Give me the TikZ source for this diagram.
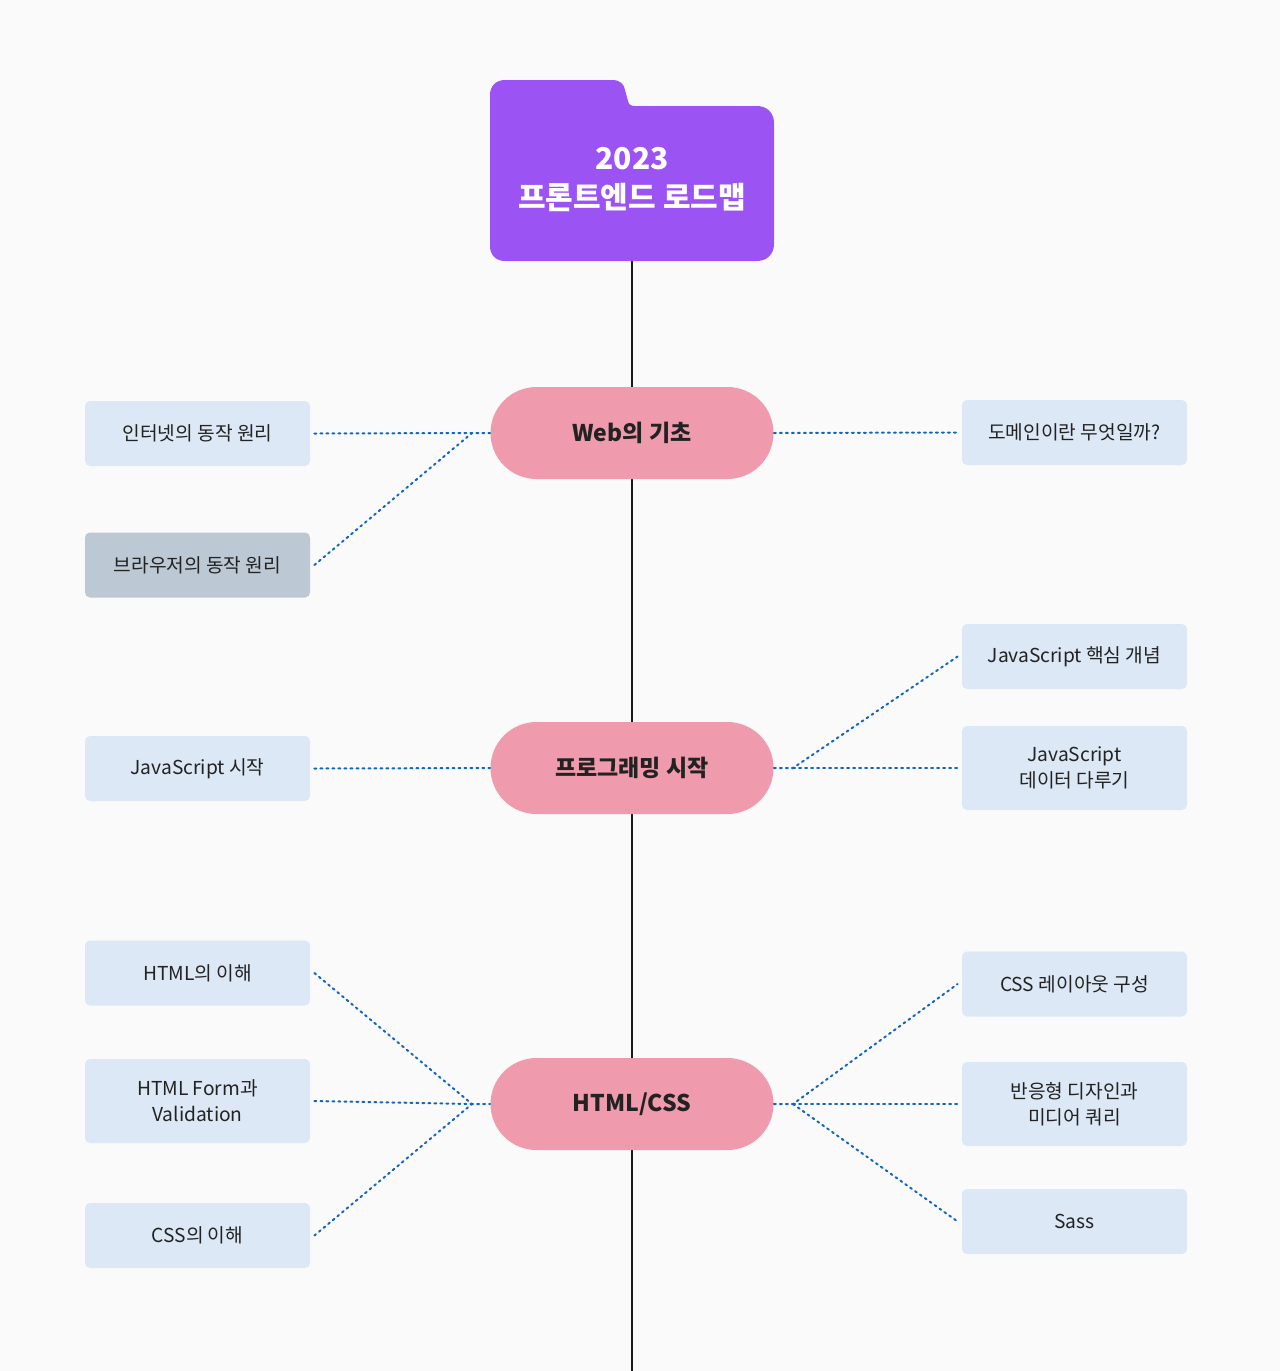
\documentclass[tikz,border=0pt]{standalone}
\usepackage{fontspec}
\setmainfont{Noto Sans CJK KR}
\usetikzlibrary{shapes.misc}
\definecolor{bg}{HTML}{FAFAFA}
\definecolor{folderc}{HTML}{9B53F4}
\definecolor{pinkc}{HTML}{F09AAD}
\definecolor{boxc}{HTML}{DCE8F5}
\definecolor{grayc}{HTML}{BCC8D4}
\definecolor{dotc}{HTML}{1565C0}
\definecolor{txtc}{HTML}{222222}
\tikzset{
  topic/.style={rounded rectangle, fill=pinkc, minimum width=141.5pt, minimum height=46pt, inner sep=0pt, font=\fontsize{11.5}{14}\selectfont\bfseries, text=txtc},
  leaf/.style={rectangle, rounded corners=2.5pt, fill=boxc, minimum width=112.5pt, inner sep=0pt, align=center, font=\fontsize{9.6}{13}\selectfont, text=txtc},
  leafgray/.style={leaf, fill=grayc},
  short/.style={minimum height=32.5pt},
  tall/.style={minimum height=42pt},
  link/.style={dotc, line width=1pt, dash pattern=on 1pt off 2pt, line cap=round},
  spine/.style={black!90, line width=1.2pt}
}
\begin{document}
\begin{tikzpicture}[x=0.5pt,y=-0.5pt]
\fill[bg] (0,0) rectangle (1280,1371);
\useasboundingbox (0,0) rectangle (1280,1371);
% spine
\coordinate (spinebottom) at (632,1371);
\coordinate (foldbottom) at (632,261);
\draw[spine] (foldbottom) -- (spinebottom);
% folder
\fill[folderc] (490,95) .. controls (490,86) and (496,80) .. (505,80)
  -- (612,80) .. controls (620,80) and (624,84) .. (625,90)
  -- (628,101) .. controls (629,105) and (631,106) .. (635,106)
  -- (757,106) .. controls (767,106) and (774,113) .. (774,123)
  -- (774,244) .. controls (774,254) and (767,261) .. (757,261)
  -- (505,261) .. controls (496,261) and (490,255) .. (490,246) -- cycle;
\node[text=white, align=center, font=\fontsize{15}{19.5}\selectfont\bfseries] (title) at (632,180) {2023\\프론트엔드 로드맵};
% topics
\node[topic] (web) at (632,433) {Web의 기초};
\node[topic] (prog) at (632,768) {프로그래밍 시작};
\node[topic] (html) at (632,1104) {HTML/CSS};
% left leaves
\node[leaf,short] (l1) at (197.5,433.5) {인터넷의 동작 원리};
\node[leafgray,short] (l2) at (197.5,565) {브라우저의 동작 원리};
\node[leaf,short] (l3) at (197.5,768.5) {JavaScript 시작};
\node[leaf,short] (l4) at (197.5,973) {HTML의 이해};
\node[leaf,tall] (l5) at (197.5,1101) {HTML Form과\\Validation};
\node[leaf,short] (l6) at (197.5,1235.5) {CSS의 이해};
% right leaves
\node[leaf,short] (r1) at (1074.5,432.5) {도메인이란 무엇일까?};
\node[leaf,short] (r2) at (1074.5,656.5) {JavaScript 핵심 개념};
\node[leaf,tall] (r3) at (1074.5,768) {JavaScript\\데이터 다루기};
\node[leaf,short] (r4) at (1074.5,984) {CSS 레이아웃 구성};
\node[leaf,tall] (r5) at (1074.5,1104) {반응형 디자인과\\미디어 쿼리};
\node[leaf,short] (r6) at (1074.5,1221.5) {Sass};
% junctions
\coordinate (jw) at (472,433);
\coordinate (jwr) at (793,433);
\coordinate (jp) at (472,768);
\coordinate (jpr) at (793,768);
\coordinate (jh) at (472,1104);
\coordinate (jhr) at (793,1104);
% connectors
\draw[link] ([xshift=2pt]l1.east) -- (jw) -- (web.west);
\draw[link] ([xshift=2pt]l2.east) -- (jw);
\draw[link] (web.east) -- ([xshift=-2pt]r1.west);
\draw[link] ([xshift=2pt]l3.east) -- (prog.west);
\draw[link] (prog.east) -- (jpr) -- ([xshift=-2pt]r2.west);
\draw[link] (jpr) -- ([xshift=-2pt]r3.west);
\draw[link] ([xshift=2pt]l4.east) -- (jh) -- (html.west);
\draw[link] ([xshift=2pt]l5.east) -- (jh);
\draw[link] ([xshift=2pt]l6.east) -- (jh);
\draw[link] (html.east) -- (jhr) -- ([xshift=-2pt]r4.west);
\draw[link] (jhr) -- ([xshift=-2pt]r5.west);
\draw[link] (jhr) -- ([xshift=-2pt]r6.west);
\end{tikzpicture}
\end{document}
